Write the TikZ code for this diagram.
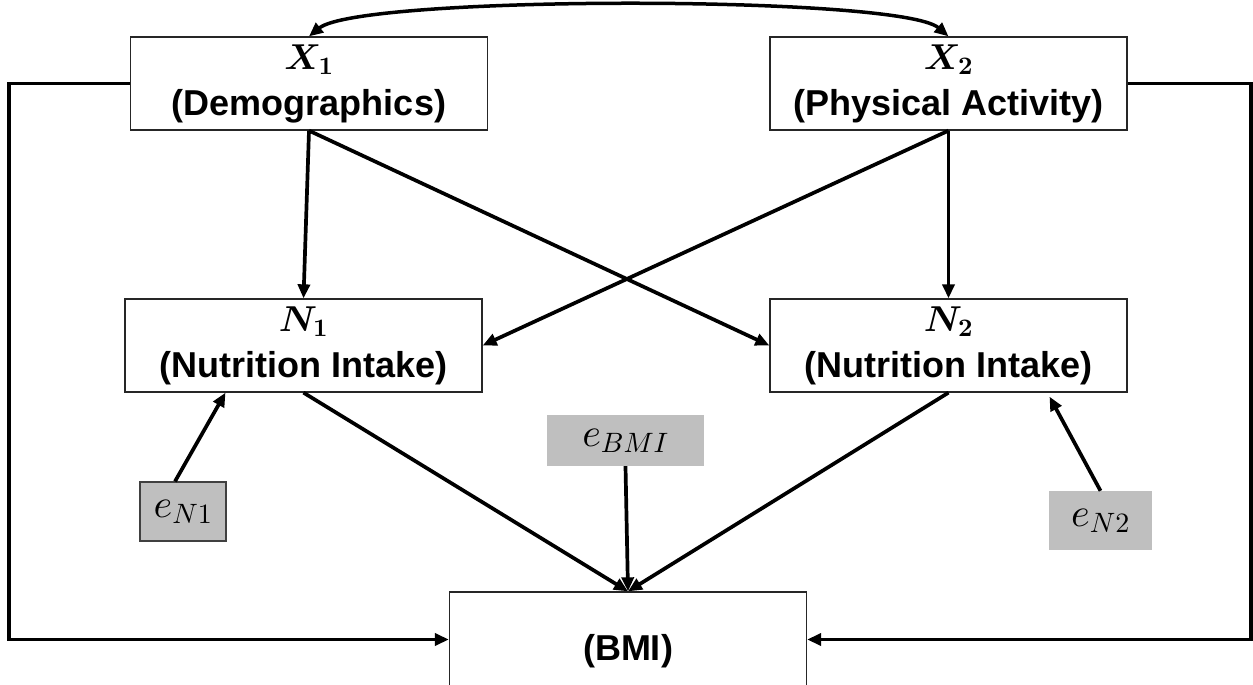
\documentclass[tikz,border=0pt]{standalone}
\usepackage{amsmath,bm}
\usepackage[no-math]{fontspec}
\setmainfont{Liberation Sans}
\DeclareFontShape{OML}{cmm}{m}{it}{<->cmmi10}{}
\DeclareFontShape{OML}{cmm}{b}{it}{<->cmmib10}{}
\DeclareFontShape{OT1}{cmr}{m}{n}{<->cmr10}{}
\DeclareFontShape{OT1}{cmr}{bx}{n}{<->cmbx10}{}
\DeclareFontShape{OMS}{cmsy}{m}{n}{<->cmsy10}{}
\DeclareFontShape{OMS}{cmsy}{b}{n}{<->cmbsy10}{}
\DeclareFontShape{OMX}{cmex}{m}{n}{<->cmex10}{}
\usetikzlibrary{arrows.meta,calc}
\definecolor{egray}{RGB}{191,191,191}
\begin{document}
\begin{tikzpicture}[x=1pt,y=-1pt,
  box/.style={draw=black!85,line width=1.3pt,minimum width=357pt,minimum height=93pt,inner sep=0pt,align=center,font=\fontsize{36}{46}\selectfont\bfseries},
  ebox/.style={fill=egray,inner sep=0pt,font=\fontsize{40}{42}\selectfont},
  conn/.style={line width=3.7pt,-{Triangle[length=14pt,width=12pt]}},
]
\useasboundingbox (0,0) rectangle (1253,685);
\clip (0,0) rectangle (1253,685);
% boxes
\node[box] (X1) at (309,83.5) {$\bm{X}_{\mathbf{1}}$\\(Demographics)};
\node[box] (X2) at (948.5,83.5) {$\bm{X}_{\mathbf{2}}$\\(Physical Activity)};
\node[box] (N1) at (303.5,345.5) {$\bm{N}_{\mathbf{1}}$\\(Nutrition Intake)};
\node[box] (N2) at (948.5,345.5) {$\bm{N}_{\mathbf{2}}$\\(Nutrition Intake)};
\node[box,minimum height=95pt] (BMI) at (628,639.5) {};
\node[font=\fontsize{36}{43}\selectfont\bfseries] (BMIlbl) at ([yshift=-12pt]BMI.center) {(BMI)};
% error terms
\node[ebox,minimum width=157pt,minimum height=51pt] (eBMI) at (625.5,440.5) {$e_{BMI}$};
\node[ebox,draw=black!75,line width=1.2pt,minimum width=86pt,minimum height=59pt] (eN1) at (183,511.5) {$e_{N1}$};
\node[ebox,minimum width=103pt,minimum height=59pt] (eN2) at (1100.5,520.5) {$e_{N2}$};
% top covariance
\draw[line width=3.5pt,{Triangle[length=14pt,width=12pt]}-{Triangle[length=14pt,width=12pt]}] (X1.north) .. controls (360,-5) and (900,-5) .. (X2.north);
% paths
\draw[conn] (X1.south) -- (N1.north);
\draw[conn] (X1.south) -- (N2.west);
\draw[conn] (X2.south) -- (N2.north);
\draw[conn] (X2.south) -- (N1.east);
\draw[conn] (N1.south) -- (BMI.north);
\draw[conn] (N2.south) -- (BMI.north);
\draw[conn] (eBMI.south) -- (BMI.north);
\draw[conn] ([xshift=-8pt]eN1.north) -- ([xshift=-78pt]N1.south);
\draw[conn] (eN2.north) -- ([xshift=101pt,yshift=-4pt]N2.south);
% feedback lines
\draw[conn] (X1.west) -- ++(-121,0) |- (BMI.west);
\draw[conn] (X2.east) -- ++(123,0) |- (BMI.east);
\end{tikzpicture}
\end{document}
